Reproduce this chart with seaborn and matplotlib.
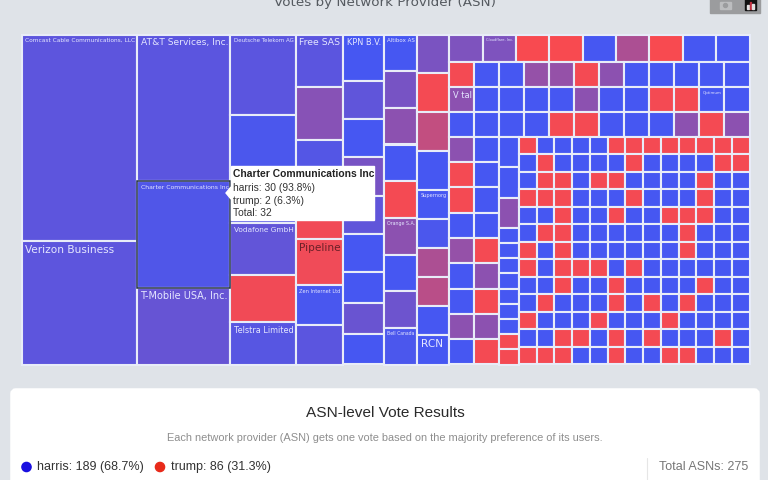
import matplotlib
matplotlib.use('Agg')
import matplotlib.pyplot as plt
from matplotlib.patches import FancyBboxPatch, Rectangle, Circle, Polygon
import seaborn as sns

col1_values = [77, 46]
col1_shares = [.87, .87]
col1_labels = ['Comcast Cable Communications, LLC', 'Verizon Business']

col2_values = [44, 32, 23]
col2_shares = [.88, .938, .82]
col2_labels = ['AT&T Services, Inc.', 'Charter Communications Inc', 'T-Mobile USA, Inc.']

col3_values = [17, 12, 11, 11, 10, 9]
col3_shares = [.88, .97, .92, .84, .04, .9]
col3_labels = ['Deutsche Telekom AG', '', '', 'Vodafone GmbH', '', 'Telstra Limited']

col4_values = [8, 8, 8, 7, 7, 6, 6]
col4_shares = [.88, .63, .92, .04, .05, .98, .88]
col4_labels = ['Free SAS', '', '', '', 'Pipeline', 'Zen Internet Ltd', '']

col5_values = [6, 5, 5, 5, 5, 5, 4, 4, 4]
col5_shares = [1, .85, 1, .72, .85, 1, 1, .8, 1]
col5_labels = ['KPN B.V.', '', '', '', '', '', '', '', '']

col6_values = [4, 4, 4, 4, 4, 4, 4, 4, 4]
col6_shares = [1, .72, .6, 1, .02, .6, 1, .78, .97]
col6_labels = ['Altibox AS', '', '', '', '', 'Orange S.A.', '', '', 'Bell Canada']

col7_values = [4, 4, 4, 4, 3, 3, 3, 3, 3, 3]
col7_shares = [.7, .02, .3, 1, 1, .97, .42, .35, 1, 1]
col7_labels = ['', '', '', '', 'Supernorg', '', '', '', '', 'RCN']

# Right block: four rows of equal tiles
row1_values = [3] * 9
row1_shares = [.68, .68, 0, 0, 1, .42, 0, 1, 1]
row1_labels = ['', 'Cloudflare, Inc.', '', '', '', '', '', '', '']
row2_values = [2] * 12
row2_shares = [.02, 1, 1, .55, .55, .02, .6, 1, 1, 1, 1, 1]
row2_labels = [''] * 12
row3_values = [2] * 12
row3_shares = [.6, 1, 1, 1, 1, .6, 1, 1, .02, .02, 1, 1]
row3_labels = ['V tal', '', '', '', '', '', '', '', '', '', 'Optimum', '']
row4_values = [2] * 12
row4_shares = [1, 1, 1, 1, .02, .02, 1, 1, 1, .6, .02, .6]
row4_labels = [''] * 12

# Columns under those rows
sub_a_values = [2] * 9
sub_a_shares = [.6, .02, .02, 1, .55, 1, 1, .6, 1]
sub_b_values = [2] * 9
sub_b_shares = [1, 1, 1, 1, .02, .6, .02, .6, .02]
sub_c_values = [2, 2, 2, 1, 1, 1, 1, 1, 1, 1, 1, 1]
sub_c_shares = [1, 1, .6, 1, 1, 1, 1, 1, 1, 1, .02, .02]

# One-vote cells, R = trump, B = harris
grid_winners = [
    'RBBBBRRRRRRRR',
    'BRBBBBRBBBBRR',
    'BRRBRRBBBBRBB',
    'RRRBBBRBBBRBB',
    'BBRBBRBBRRRBB',
    'BRRBBBBBBRBBB',
    'RBRBBBBBBRBBB',
    'RBRRRBRBBBBBB',
    'BBRBBRBBBBRBB',
    'BRBBBRBRBRBBB',
    'RBBBRBBBRBBBB',
    'BBRRBRBRBBBRB',
    'RRRBBRBBRRBBB',
]

tooltip_lines = ['harris: 30 (93.8%)', 'trump: 2 (6.3%)', 'Total: 32']

sns.set_theme(style='white')
plt.rcParams['font.family'] = ['DejaVu Sans']

BG = '#dfe3e8'
ramp = sns.blend_palette(['#f84a50', '#9e50a0', '#4657f2'], n_colors=101)

tiles = []


def split_y(x0, x1, y0, y1, values, shares, labels=None):
    total = sum(values)
    y = y0
    for i, v in enumerate(values):
        h = (y1 - y0) * v / total
        tiles.append((x0, x1 - x0, y, h, shares[i], labels[i] if labels else ''))
        y += h


def split_x(x0, x1, y0, y1, values, shares, labels=None):
    total = sum(values)
    x = x0
    for i, v in enumerate(values):
        w = (x1 - x0) * v / total
        tiles.append((x, w, y0, y1 - y0, shares[i], labels[i] if labels else ''))
        x += w


columns = [
    (col1_values, col1_shares, col1_labels),
    (col2_values, col2_shares, col2_labels),
    (col3_values, col3_shares, col3_labels),
    (col4_values, col4_shares, col4_labels),
    (col5_values, col5_shares, col5_labels),
    (col6_values, col6_shares, col6_labels),
    (col7_values, col7_shares, col7_labels),
]
rows = [(row1_values, row1_shares, row1_labels), (row2_values, row2_shares, row2_labels),
        (row3_values, row3_shares, row3_labels), (row4_values, row4_shares, row4_labels)]
subs = [(sub_a_values, sub_a_shares), (sub_b_values, sub_b_shares),
        (sub_c_values, sub_c_shares)]

grid_rows = [[1] * len(r) for r in grid_winners]
grid_shares = [[.02 if c == 'R' else 1 for c in r] for r in grid_winners]

left_total = sum(sum(c[0]) for c in columns)
top_total = sum(sum(r[0]) for r in rows)
low_total = sum(sum(s[0]) for s in subs) + sum(sum(r) for r in grid_rows)
right_total = top_total + low_total
total = left_total + right_total

x = 0
for vals, shares, labels in columns:
    split_y(x, x + sum(vals), 0, 1, vals, shares, labels)
    x += sum(vals)

y = 0
for vals, shares, labels in rows:
    h = sum(vals) / right_total
    split_x(x, total, y, y + h, vals, shares, labels)
    y += h

low_h = 1 - y
for vals, shares in subs:
    w = sum(vals) / low_h
    split_y(x, x + w, y, 1, vals, shares)
    x += w

grid_total = sum(sum(r) for r in grid_rows)
for vals, shares in zip(grid_rows, grid_shares):
    h = low_h * sum(vals) / grid_total
    split_x(x, total, y, y + h, vals, shares)
    y += h

fig = plt.figure(figsize=(7.68, 4.8), dpi=100, facecolor=BG)
ax = fig.add_axes([21.5 / 768, 1 - 364.5 / 480, 728 / 768, 330 / 480])
ax.set_xlim(0, total)
ax.set_ylim(1, 0)
ax.axis('off')

colors = [ramp[int(round(t[4] * 100))] for t in tiles]
ax.bar([t[0] for t in tiles], [t[3] for t in tiles], width=[t[1] for t in tiles],
       bottom=[t[2] for t in tiles], align='edge', color=colors,
       edgecolor='#e8ecf8', linewidth=1.5, clip_on=False)

# Fit each label to its tile width, capped at the size of the big tiles
renderer = fig.canvas.get_renderer()
px_per_x = 728 / total
for t in tiles:
    if not t[5]:
        continue
    width_px = t[1] * px_per_x
    text_color = '#e4e6ff' if t[4] > .3 else '#6a2028'
    lab = ax.annotate(t[5], (t[0], t[2]), xytext=(2.4, -2.5), textcoords='offset points',
                      ha='left', va='top', fontsize=10, color=text_color, zorder=3)
    fit_size = 10 * (width_px - 6) / lab.get_window_extent(renderer).width
    lab.set_fontsize(min(7.6, fit_size))

# Highlighted tile under the hover
hover = next(t for t in tiles if t[5].startswith('Charter'))
ax.bar([hover[0]], [hover[3]], width=[hover[1]], bottom=[hover[2]], align='edge',
       fill=False, edgecolor='#22304a', linewidth=1.1, zorder=2)

# Overlay in pixels for page furniture
ov = fig.add_axes([0, 0, 1, 1], facecolor='none')
ov.set_xlim(0, 768)
ov.set_ylim(480, 0)
ov.axis('off')

ov.text(385, 6, 'Votes by Network Provider (ASN)', ha='center', va='baseline',
        fontsize=9.7, color='#555a60')

# Mode bar
ov.add_patch(Rectangle((710, -2), 49.5, 15, color='#9b9c9e'))
ov.add_patch(Rectangle((720, 2), 11, 7, color='#bcbdbf'))
ov.add_patch(Circle((725.5, 5.5), 2, color='#9b9c9e'))
ov.add_patch(Rectangle((745, -2), 11, 12, color='#111111'))
for bx, bh, bc in [(747, 4, '#e0e0e0'), (749.5, 7, '#c03040'), (752, 5, '#e0e0e0')]:
    ov.add_patch(Rectangle((bx, 9 - bh), 1.6, bh, color=bc))

# Tooltip
ov.add_patch(Polygon([(231, 187), (226, 193), (231, 199)], color='white', zorder=5))
ov.add_patch(Rectangle((231, 166), 143, 54, color='white', zorder=5))
ov.text(233, 174, 'Charter Communications Inc', family='Liberation Sans', fontweight='bold',
        fontsize=7.4, color='#222222', va='center', zorder=6)
for i, line in enumerate(tooltip_lines):
    ov.text(233, 188 + i * 12.7, line, family='Liberation Sans', fontsize=7.4,
            color='#333333', va='center', zorder=6)

# Results panel
ov.add_patch(FancyBboxPatch((13, 391), 744, 100, boxstyle='round,pad=0,rounding_size=3',
                            mutation_aspect=1, facecolor='white', edgecolor='white', lw=4))
ov.text(385, 413, 'ASN-level Vote Results', ha='center', va='center',
        family='Liberation Sans', fontsize=11.1, color='#2a2a2a')
ov.text(385, 438, 'Each network provider (ASN) gets one vote based on the majority preference of its users.',
        ha='center', va='center', family='Liberation Sans', fontsize=7.9, color='#8e8e8e')
ov.add_patch(Circle((26.5, 467), 4.6, color='#1a10e0'))
ov.text(37, 467, 'harris: 189 (68.7%)', va='center', family='Liberation Sans', fontsize=9, color='#333333')
ov.add_patch(Circle((160, 467), 4.6, color='#e82a1a'))
ov.text(171, 467, 'trump: 86 (31.3%)', va='center', family='Liberation Sans', fontsize=9, color='#333333')
ov.plot([647, 647], [458, 480], color='#e6e6e6', lw=0.8)
ov.text(748, 467, 'Total ASNs: 275', ha='right', va='center', family='Liberation Sans',
        fontsize=9, color='#777777')

fig.savefig('out.png', dpi=100, facecolor=BG)
